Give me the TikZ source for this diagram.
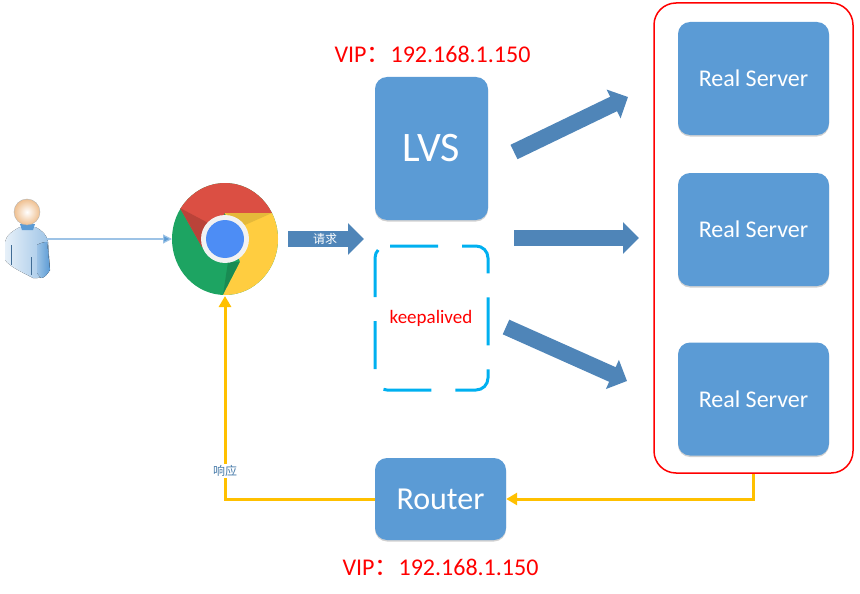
\documentclass[tikz,border=0pt]{standalone}
\usepackage{fontspec}
\setmainfont{Carlito}
\newfontfamily\cjk{Noto Sans CJK SC}
\usepackage{tikz}
\usetikzlibrary{arrows.meta, positioning, shadows}
\definecolor{boxblue}{HTML}{5B9BD5}
\definecolor{arrowblue}{HTML}{4F85B8}
\definecolor{routeyellow}{HTML}{FFC000}
\definecolor{dashblue}{HTML}{00B0F0}
\definecolor{chromered}{HTML}{DB4F43}
\definecolor{chromegreen}{HTML}{1DA462}
\definecolor{chromeyellow}{HTML}{FFCD40}
\definecolor{chromeblue}{HTML}{4D8DF5}
\tikzset{
	boxnode/.style={fill=boxblue, rounded corners=12pt, text=white, inner sep=0pt,
		drop shadow={shadow xshift=0pt, shadow yshift=-1.5pt, opacity=.18, fill=black}},
	server/.style={boxnode, minimum width=151pt, minimum height=113pt, font=\fontsize{24}{26}\selectfont},
	viptext/.style={text=red, inner sep=0pt, font=\fontsize{24}{26}\selectfont},
	blockarrow/.style={draw=arrowblue, line width=16pt, -{Triangle[length=16pt, width=31pt]}},
	response/.style={draw=routeyellow, line width=3pt, -{Triangle[length=11pt, width=12pt]}},
}
\begin{document}
\begin{tikzpicture}[x=1pt, y=-1pt]
	\useasboundingbox (0,0) rectangle (860,594);

	% servers
	\node[draw=red, line width=1.5pt, rounded corners=22pt, minimum width=199pt, minimum height=470pt, inner sep=0pt] (group) at (753.5,238) {};
	\node[server] (real1) at (753.5,78.5) {Real Server};
	\node[server] (real2) at (753.5,229.5) {Real Server};
	\node[server] (real3) at (753.5,399) {Real Server};

	% middle
	\node[boxnode, minimum width=113pt, minimum height=143pt, font=\fontsize{42}{44}\selectfont] (lvs) at (431.5,148.5) {LVS};
	\draw[draw=dashblue, line width=3pt, dash pattern=on 48pt off 24pt, rounded corners=12pt] (390,246) -- (488,246) -- (488,390) -- (375,390) -- (375,246) -- (390,246);
	\node[text=red, inner sep=0pt, font=\fontsize{19}{21}\selectfont] (keeplabel) at (431,318) {keepalived};
	\node[boxnode, minimum width=131pt, minimum height=82pt, font=\fontsize{32}{34}\selectfont] (router) at (440.5,499) {Router};
	\node[viptext] (vip1) at (432.5,54) {VIP{\cjk ：}192.168.1.150};
	\node[viptext] (vip2) at (440.5,567) {VIP{\cjk ：}192.168.1.150};

	% chrome
	\begin{scope}
		\clip (225,239) ellipse [x radius=53, y radius=56];
		\fill[chromegreen] (160,170) rectangle (290,310);
		\fill[chromegreen!85!black] (223,295) -- (240,262) -- (228,262) -- cycle;
		\fill[chromered] (180,208) -- (202,247) -- (225,213) -- (272,213) -- (300,213) -- (300,150) -- (150,150) -- (150,208) -- cycle;
		\fill[chromered!85!black] (180,208) -- (202,247) -- (212,225) -- cycle;
		\fill[chromeyellow] (272,213) -- (225,213) -- (240,262) -- (223,295) -- (223,310) -- (300,310) -- (300,213) -- cycle;
		\fill[chromeyellow!90!black] (272,213) -- (225,213) -- (245,225) -- cycle;
	\end{scope}
	\node[circle, fill=black!5, minimum size=48pt, inner sep=0pt] (chromering) at (225,239) {};
	\node[circle, fill=chromeblue, minimum size=38pt, inner sep=0pt] (chrome) at (225,239) {};
	\coordinate (chromeleft) at (172,239);
	\coordinate (chromebottom) at (225,296);

	% user
	\fill[left color=boxblue!15, right color=boxblue!60] (5,242) .. controls (6,235) and (14,230) .. (20,227) -- (35,227) .. controls (42,230) and (47,235) .. (48,242) -- (50,270) .. controls (45,277) and (38,279) .. (33,278) .. controls (22,272) and (10,267) .. (5,260) -- cycle;
	\fill[left color=boxblue!60, right color=boxblue] (37,245) .. controls (40,243) and (44,242) .. (47,242) -- (50,270) .. controls (47,275) and (44,278) .. (41,278) -- (37,273) -- cycle;
	\fill[fill=boxblue] (20,224) -- (35,224) -- (33,230) -- (22,230) -- cycle;
	\draw[draw=boxblue!70!black] (11,245) -- (11,265) (31,257) -- (31,275);
	\node[circle, draw=black!30, inner color=white, outer color=orange!50!brown!50, minimum size=26pt, inner sep=0pt] (head) at (27,212) {};
	\coordinate (userright) at (46,239);

	% arrows
	\draw[draw=boxblue!60, line width=1.2pt, -{Triangle[length=9pt, width=9pt, fill=boxblue]}] (userright) -- (chromeleft);

	\coordinate (reqstart) at (288,239);
	\coordinate (reqend) at (364,239);
	\draw[blockarrow] (reqstart) -- (reqend);
	\node[text=white, inner sep=0pt, font=\cjk\fontsize{12}{14}\selectfont] (reqlabel) at (325,239) {请求};

	\coordinate (a1s) at (514,152);
	\coordinate (a1e) at (628,97);
	\coordinate (a2s) at (514,238);
	\coordinate (a2e) at (639,238);
	\coordinate (a3s) at (506,327);
	\coordinate (a3e) at (627,381);
	\draw[blockarrow] (a1s) -- (a1e);
	\draw[blockarrow] (a2s) -- (a2e);
	\draw[blockarrow] (a3s) -- (a3e);

	\draw[response] (group.south) |- (router.east);
	\draw[response] (router.west) -| (chromebottom);
	\node[fill=white, text=boxblue!80!black, inner sep=1pt, font=\cjk\fontsize{12}{14}\selectfont] (resplabel) at (225,471) {响应};
\end{tikzpicture}
\end{document}
